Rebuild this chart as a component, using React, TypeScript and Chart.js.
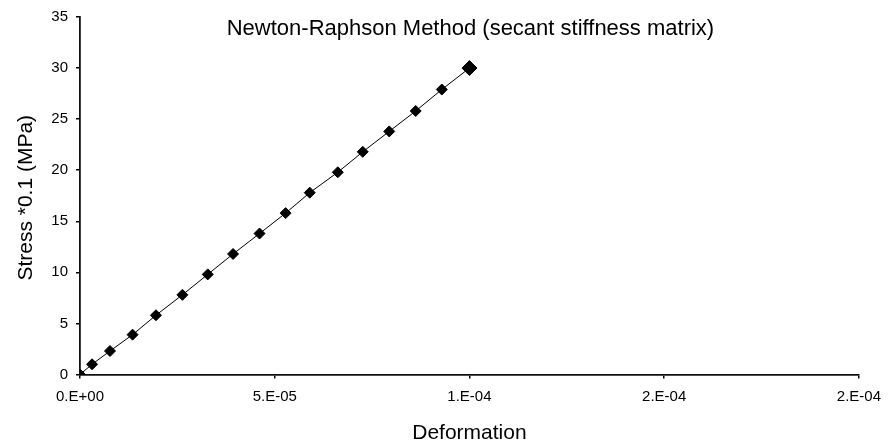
import React, { useEffect, useRef } from "react";
import { Chart, registerables } from "chart.js";

Chart.register(...registerables);

const chartTitle = "Newton-Raphson Method (secant stiffness matrix)";
const xAxisTitle = "Deformation";
const yAxisTitle = "Stress *0.1 (MPa)";

const deformation = [
  0, 3.1e-6, 7.7e-6, 1.35e-5, 1.95e-5, 2.63e-5, 3.28e-5, 3.93e-5, 4.61e-5,
  5.28e-5, 5.9e-5, 6.62e-5, 7.26e-5, 7.94e-5, 8.62e-5, 9.29e-5, 1.0e-4,
];
const stress = [
  0, 1.0, 2.3, 3.9, 5.8, 7.8, 9.8, 11.8, 13.8, 15.8, 17.8, 19.8, 21.8, 23.8,
  25.8, 27.9, 30,
];

const xTickLabels = ["0.E+00", "5.E-05", "1.E-04", "2.E-04", "2.E-04"];
const yTickLabels = ["0", "5", "10", "15", "20", "25", "30", "35"];

const FONT = '"Liberation Sans", Arial, sans-serif';

const titlesPlugin = {
  id: "customTitles",
  afterDraw(chart: any) {
    const { ctx, chartArea } = chart;
    const cx = (chartArea.left + chartArea.right) / 2;
    const cy = (chartArea.top + chartArea.bottom) / 2;
    ctx.save();
    ctx.fillStyle = "#000";
    ctx.textAlign = "center";
    ctx.textBaseline = "alphabetic";
    ctx.font = `22px ${FONT}`;
    ctx.fillText(chartTitle, cx + 1, chartArea.top + 18);
    ctx.font = `21px ${FONT}`;
    ctx.fillText(xAxisTitle, cx, chartArea.bottom + 64);
    ctx.translate(chartArea.left - 48, cy + 2);
    ctx.rotate(-Math.PI / 2);
    ctx.font = `21px ${FONT}`;
    ctx.fillText(yAxisTitle, 0, 0);
    ctx.restore();
  },
};

export default function App() {
  const canvasRef = useRef<HTMLCanvasElement | null>(null);

  useEffect(() => {
    if (!canvasRef.current) return;
    const points = deformation.map((x, i) => ({ x, y: stress[i] }));
    const last = points.length - 1;
    const chart = new Chart(canvasRef.current, {
      type: "scatter",
      data: {
        datasets: [
          {
            data: points,
            showLine: true,
            borderColor: "#000",
            borderWidth: 1,
            backgroundColor: "#000",
            pointBackgroundColor: "#000",
            pointBorderColor: "#000",
            pointBorderWidth: 1,
            pointStyle: "rectRot",
            pointRadius: (ctx: any) => (ctx.dataIndex === last ? 7.5 : 5.5),
            pointHoverRadius: 6,
          },
        ],
      },
      options: {
        animation: false,
        responsive: false,
        maintainAspectRatio: false,
        devicePixelRatio: 1,
        layout: { padding: { left: 0, right: 29, top: 15, bottom: 0 } },
        plugins: {
          legend: { display: false },
          title: { display: false },
          tooltip: { enabled: false },
        },
        scales: {
          x: {
            type: "linear",
            min: 0,
            max: 2e-4,
            afterFit: (scale: any) => {
              scale.height = 73.5;
            },
            afterBuildTicks: (scale: any) => {
              scale.ticks = xTickLabels.map((_, i) => ({ value: i * 5e-5 }));
            },
            ticks: {
              color: "#000",
              font: { family: FONT, size: 15 },
              padding: 9,
              maxRotation: 0,
              autoSkip: false,
              callback: (_v: any, i: number) => xTickLabels[i],
            },
            grid: {
              display: true,
              drawOnChartArea: false,
              drawTicks: true,
              tickLength: 4,
              color: "#000",
              lineWidth: 1.5,
            },
            border: { display: true, color: "#111", width: 1.8 },
          },
          y: {
            type: "linear",
            min: 0,
            max: 35,
            afterFit: (scale: any) => {
              scale.width = 80;
            },
            afterBuildTicks: (scale: any) => {
              scale.ticks = yTickLabels.map((t) => ({ value: Number(t) }));
            },
            ticks: {
              color: "#000",
              font: { family: FONT, size: 15 },
              padding: 8,
              autoSkip: false,
              callback: (_v: any, i: number) => yTickLabels[i],
            },
            grid: {
              display: true,
              drawOnChartArea: false,
              drawTicks: true,
              tickLength: 4,
              color: "#000",
              lineWidth: 1.5,
            },
            border: { display: true, color: "#111", width: 1.8 },
          },
        },
      },
      plugins: [titlesPlugin],
    });
    return () => chart.destroy();
  }, []);

  return (
    <div
      style={{
        position: "fixed",
        left: 0,
        top: 0,
        width: 890,
        height: 448,
        background: "#fff",
      }}
    >
      <canvas ref={canvasRef} width={890} height={448} />
    </div>
  );
}
